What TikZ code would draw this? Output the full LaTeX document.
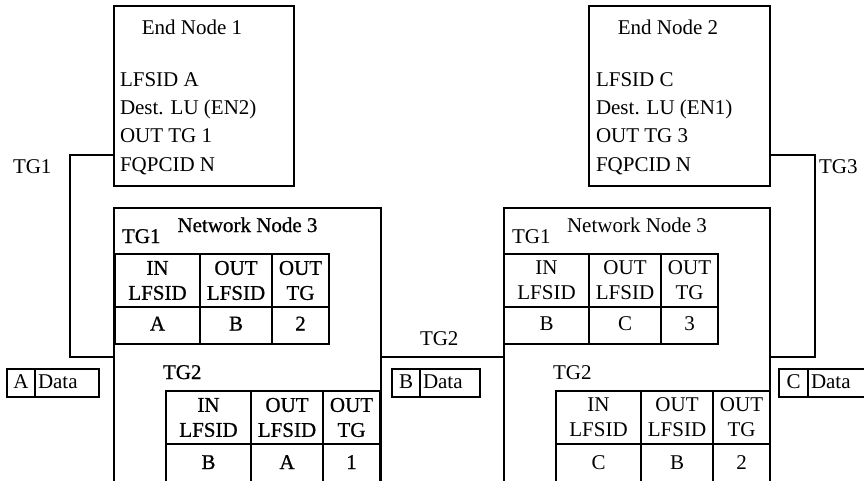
\documentclass[tikz,border=0pt]{standalone}
\usepackage{fontspec}
\setmainfont{Liberation Serif}
\newfontfamily\heavyfont[FakeBold=0.8]{Liberation Serif}
\newcommand{\lftable}[7]{%
  \node[hcell, minimum width=85pt, anchor=north west] (#1a) at (#2,#3) {IN\\LFSID};
  \node[hcell, minimum width=72pt, anchor=north west] (#1b) at (#1a.north east) {OUT\\LFSID};
  \node[hcell, minimum width=57pt, anchor=north west] (#1c) at (#1b.north east) {OUT\\TG};
  \node[vcell, minimum width=85pt, minimum height=#4, anchor=north west] (#1d) at (#1a.south west) {#5};
  \node[vcell, minimum width=72pt, minimum height=#4, anchor=north west] (#1e) at (#1b.south west) {#6};
  \node[vcell, minimum width=57pt, minimum height=#4, anchor=north west] (#1f) at (#1c.south west) {#7};
}
\begin{document}
\begin{tikzpicture}[x=1pt,y=-1pt,
  every node/.style={font=\fontsize{21}{25}\selectfont, inner sep=0pt, outer sep=0pt},
  frame/.style={draw},
  hcell/.style={draw, align=center, minimum height=53pt},
  vcell/.style={draw, text height=15pt, text depth=5pt},
  lbl/.style={anchor=base west},
  wire/.style={line width=1.8pt},
  databox/.style={draw, line width=1.5pt, minimum height=28pt, text height=15pt, text depth=5pt, anchor=north west},
  line width=1.9pt]
\clip (0,0) rectangle (864,480);
\fill[white] (0,0) rectangle (864,480);

% End nodes
\node[frame, minimum width=180pt, minimum height=180pt, anchor=north west] (en1) at (114,6) {};
\node[anchor=base] (en1t) at (192,34) {End Node 1};
\node[lbl] (en1a) at (120,86) {LFSID A};
\node[lbl] (en1b) at (120,114.3) {Dest. LU (EN2)};
\node[lbl] (en1c) at (120,142.6) {OUT TG 1};
\node[lbl] (en1d) at (120,171) {FQPCID N};

\node[frame, minimum width=181pt, minimum height=180pt, anchor=north west] (en2) at (589,6) {};
\node[anchor=base] (en2t) at (668,34) {End Node 2};
\node[lbl] (en2a) at (596,86) {LFSID C};
\node[lbl] (en2b) at (596,114.3) {Dest. LU (EN1)};
\node[lbl] (en2c) at (596,142.6) {OUT TG 3};
\node[lbl] (en2d) at (596,171) {FQPCID N};

% Network nodes
\begin{scope}[line width=2.6pt, every node/.append style={font=\heavyfont\fontsize{21}{25}\selectfont}]
\node[frame, minimum width=267pt, minimum height=300pt, anchor=north west] (nn1) at (114,208) {};
\node[anchor=base] (nn1t) at (247.5,232) {Network Node 3};
\node[lbl] (nn1g1) at (122,243) {TG1};
\lftable{lt}{115}{254}{37pt}{A}{B}{2}
\node[lbl] (nn1g2) at (163,379) {TG2};
\lftable{lb}{166}{391}{40pt}{B}{A}{1}
\end{scope}

\node[frame, minimum width=266pt, minimum height=300pt, anchor=north west] (nn2) at (504,208) {};
\node[anchor=base] (nn2t) at (637,232) {Network Node 3};
\node[lbl] (nn2g1) at (512,243) {TG1};
\lftable{rt}{504}{254}{37pt}{B}{C}{3}
\node[lbl] (nn2g2) at (553,379) {TG2};
\lftable{rb}{556}{391}{40pt}{C}{B}{2}

% Connectors
\coordinate (c1) at (70,155);
\coordinate (c2) at (70,357);
\draw[wire] (c1 -| en1.west) -- (c1) -- (c2) -- (c2 -| nn1.west);
\node[lbl] (tg1) at (13,173) {TG1};

\coordinate (c3) at (442,357);
\draw[wire] (c3 -| nn1.east) -- (c3 -| nn2.west);
\node[lbl] (tg2) at (420,345) {TG2};

\coordinate (c4) at (815,155);
\coordinate (c5) at (815,357);
\draw[wire] (c4 -| en2.east) -- (c4) -- (c5) -- (c5 -| nn2.east);
\node[lbl] (tg3) at (819,173) {TG3};

% Data boxes
\node[databox, minimum width=28pt] (ak) at (7,369) {A};
\node[databox, text width=58pt, inner xsep=3pt, align=left] (ad) at (ak.north east) {Data};
\node[databox, minimum width=28pt] (bk) at (392,369) {B};
\node[databox, text width=54pt, inner xsep=3pt, align=left] (bd) at (bk.north east) {Data};
\node[databox, minimum width=29pt] (ck) at (779,369) {C};
\node[databox, text width=58pt, inner xsep=3pt, align=left] (cd) at (ck.north east) {Data};
\end{tikzpicture}
\end{document}
